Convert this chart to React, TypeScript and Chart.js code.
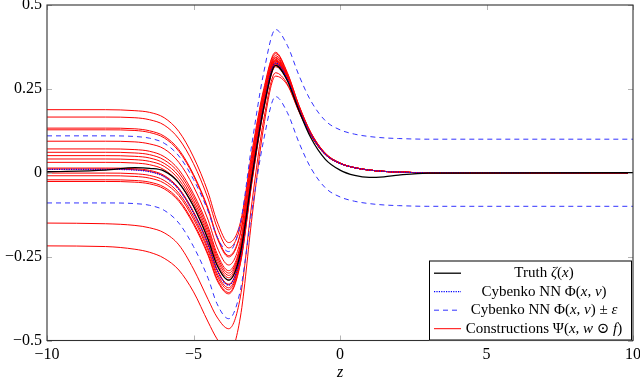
import React, { useEffect, useRef } from 'react';
import { Chart, registerables } from 'chart.js';

Chart.register(...registerables);

// ---- data ----
const X = [-10, -8, -7, -6.5, -6, -5.5, -5, -4.5, -4.2, -3.8, -3.4, -3.0, -2.6, -2.2, -1.8, -1.4, -1.0, -0.5, 0, 0.5, 1, 1.5, 2, 3, 10];

const TRUTH = [0.003, 0.008, 0.015, 0.013, 0.005, -0.03, -0.1, -0.2, -0.275, -0.32, -0.24, -0.01, 0.195, 0.32, 0.275, 0.185, 0.105, 0.04, 0.008, -0.008, -0.014, -0.012, -0.007, -0.001, 0];
const PHI = [0.01, 0.01, 0.008, 0.003, -0.012, -0.05, -0.12, -0.215, -0.29, -0.335, -0.25, -0.01, 0.2, 0.327, 0.28, 0.19, 0.115, 0.055, 0.028, 0.015, 0.008, 0.004, 0.002, 0, 0];
const PHI_UP = [0.11, 0.11, 0.108, 0.103, 0.088, 0.05, -0.02, -0.115, -0.19, -0.235, -0.15, 0.09, 0.3, 0.427, 0.38, 0.29, 0.215, 0.155, 0.128, 0.115, 0.108, 0.104, 0.102, 0.1, 0.1];
const PHI_LO = [-0.09, -0.09, -0.092, -0.097, -0.112, -0.15, -0.22, -0.315, -0.39, -0.435, -0.35, -0.11, 0.1, 0.227, 0.18, 0.09, 0.015, -0.045, -0.072, -0.085, -0.092, -0.096, -0.098, -0.1, -0.1];

const RED_01 = [0.188, 0.188, 0.185, 0.18, 0.164, 0.123, 0.047, -0.059, -0.144, -0.208, -0.148, 0.066, 0.251, 0.359, 0.299, 0.201, 0.121, 0.058, 0.029, 0.015, 0.008, 0.004, 0.002, 0, 0];
const RED_02 = [0.166, 0.166, 0.164, 0.158, 0.142, 0.101, 0.027, -0.078, -0.162, -0.224, -0.16, 0.056, 0.245, 0.355, 0.297, 0.2, 0.12, 0.058, 0.029, 0.015, 0.008, 0.004, 0.002, 0, 0];
const RED_03 = [0.133, 0.133, 0.131, 0.125, 0.109, 0.069, -0.005, -0.107, -0.189, -0.247, -0.179, 0.042, 0.235, 0.349, 0.293, 0.198, 0.119, 0.057, 0.029, 0.015, 0.008, 0.004, 0.002, 0, 0];
const RED_04 = [0.128, 0.128, 0.126, 0.12, 0.104, 0.064, -0.009, -0.111, -0.193, -0.251, -0.182, 0.04, 0.234, 0.344, 0.291, 0.197, 0.119, 0.057, 0.029, 0.015, 0.008, 0.004, 0.002, 0, 0];
const RED_05 = [0.094, 0.094, 0.092, 0.086, 0.071, 0.031, -0.041, -0.141, -0.221, -0.275, -0.202, 0.026, 0.224, 0.342, 0.289, 0.195, 0.118, 0.056, 0.029, 0.015, 0.008, 0.004, 0.002, 0, 0];
const RED_06 = [0.071, 0.071, 0.069, 0.064, 0.048, 0.009, -0.063, -0.161, -0.24, -0.292, -0.215, 0.016, 0.218, 0.338, 0.287, 0.194, 0.117, 0.056, 0.028, 0.015, 0.008, 0.004, 0.002, 0, 0];
const RED_07 = [0.061, 0.061, 0.059, 0.054, 0.038, 0.0, -0.072, -0.17, -0.248, -0.299, -0.221, 0.012, 0.215, 0.336, 0.286, 0.193, 0.117, 0.056, 0.028, 0.015, 0.008, 0.004, 0.002, 0, 0];
const RED_08 = [0.051, 0.051, 0.049, 0.044, 0.028, -0.01, -0.082, -0.179, -0.256, -0.306, -0.226, 0.007, 0.212, 0.334, 0.284, 0.193, 0.116, 0.056, 0.028, 0.015, 0.008, 0.004, 0.002, 0, 0];
const RED_09 = [0.041, 0.041, 0.039, 0.034, 0.019, -0.02, -0.091, -0.188, -0.265, -0.313, -0.232, 0.003, 0.209, 0.333, 0.283, 0.192, 0.116, 0.055, 0.028, 0.015, 0.008, 0.004, 0.002, 0, 0];
const RED_10 = [0.031, 0.031, 0.029, 0.024, 0.009, -0.03, -0.1, -0.197, -0.273, -0.32, -0.238, -0.001, 0.206, 0.331, 0.282, 0.191, 0.116, 0.055, 0.028, 0.015, 0.008, 0.004, 0.002, 0, 0];
const RED_11 = [0.014, 0.014, 0.012, 0.007, -0.008, -0.046, -0.116, -0.211, -0.287, -0.332, -0.248, -0.008, 0.201, 0.328, 0.28, 0.19, 0.115, 0.055, 0.028, 0.015, 0.008, 0.004, 0.002, 0, 0];
const RED_12 = [0.011, 0.011, 0.009, 0.004, -0.011, -0.049, -0.119, -0.214, -0.289, -0.334, -0.249, -0.01, 0.2, 0.327, 0.28, 0.19, 0.115, 0.055, 0.028, 0.015, 0.008, 0.004, 0.002, 0, 0];
const RED_13 = [-0.001, -0.001, -0.003, -0.008, -0.023, -0.061, -0.13, -0.225, -0.299, -0.343, -0.256, -0.015, 0.197, 0.325, 0.279, 0.189, 0.115, 0.055, 0.028, 0.015, 0.008, 0.004, 0.002, 0, 0];
const RED_14 = [-0.009, -0.009, -0.011, -0.016, -0.031, -0.068, -0.138, -0.232, -0.306, -0.349, -0.261, -0.018, 0.195, 0.324, 0.278, 0.189, 0.114, 0.055, 0.028, 0.015, 0.008, 0.004, 0.002, 0, 0];
const RED_15 = [-0.021, -0.021, -0.023, -0.028, -0.043, -0.08, -0.149, -0.242, -0.315, -0.357, -0.268, -0.023, 0.191, 0.321, 0.277, 0.188, 0.114, 0.055, 0.028, 0.015, 0.008, 0.004, 0.002, 0, 0];
const RED_16 = [-0.026, -0.026, -0.028, -0.033, -0.048, -0.085, -0.154, -0.247, -0.32, -0.361, -0.271, -0.025, 0.19, 0.316, 0.276, 0.188, 0.114, 0.054, 0.028, 0.015, 0.008, 0.004, 0.002, 0, 0];
const RED_17 = [-0.15, -0.152, -0.157, -0.164, -0.179, -0.215, -0.287, -0.378, -0.43, -0.465, -0.37, -0.085, 0.16, 0.298, 0.265, 0.183, 0.112, 0.054, 0.028, 0.015, 0.008, 0.004, 0.002, 0, 0];
const RED_18 = [-0.218, -0.22, -0.228, -0.237, -0.255, -0.29, -0.355, -0.445, -0.495, -0.54, -0.43, -0.13, 0.14, 0.288, 0.262, 0.182, 0.112, 0.054, 0.028, 0.015, 0.008, 0.004, 0.002, 0, 0];

const RED_SERIES = [RED_01, RED_02, RED_03, RED_04, RED_05, RED_06, RED_07, RED_08, RED_09, RED_10, RED_11, RED_12, RED_13, RED_14, RED_15, RED_16, RED_17, RED_18];

const X_TICKS = [-10, -5, 0, 5, 10];
const Y_TICKS = [-0.5, -0.25, 0, 0.25, 0.5];
const X_TITLE = 'z';

// legend labels: [text, italic]
const LEGEND_TRUTH: [string, boolean][] = [['Truth ', false], ['ζ', true], ['(', false], ['x', true], [')', false]];
const LEGEND_PHI: [string, boolean][] = [['Cybenko NN Φ(', false], ['x', true], [', ', false], ['v', true], [')', false]];
const LEGEND_PHI_EPS: [string, boolean][] = [['Cybenko NN Φ(', false], ['x', true], [', ', false], ['v', true], [') ± ', false], ['ε', true]];
const LEGEND_CONS: [string, boolean][] = [['Constructions Ψ(', false], ['x', true], [', ', false], ['w', true], [' ⊙ ', false], ['f', true], [')', false]];

const SERIF = '"Liberation Serif", "DejaVu Serif", serif';

const fmt = (v: number) => {
  const s = String(Math.abs(v));
  return v < 0 ? '\u2212' + s : s;
};

const pts = (ys: number[]) => X.map((x, i) => ({ x, y: ys[i] }));

type LegendItem = { label: [string, boolean][]; color: string; dash: number[]; width: number };
const LEGEND_ITEMS: LegendItem[] = [
  { label: LEGEND_TRUTH, color: '#000000', dash: [], width: 1.3 },
  { label: LEGEND_PHI, color: '#0000ff', dash: [1.2, 1.2], width: 1.2 },
  { label: LEGEND_PHI_EPS, color: '#3333ff', dash: [5, 4], width: 1 },
  { label: LEGEND_CONS, color: '#ff0000', dash: [], width: 1 },
];

const framePlugin = {
  id: 'pgfFrame',
  afterDatasetsDraw(chart: any) {
    const { ctx, chartArea, scales } = chart;
    const { left, right, top, bottom } = chartArea;
    ctx.save();
    // inward tick marks
    ctx.strokeStyle = '#b4b4b4';
    ctx.lineWidth = 1;
    ctx.setLineDash([]);
    const tl = 5;
    X_TICKS.forEach((t) => {
      const px = Math.round(scales.x.getPixelForValue(t)) + 0.5;
      ctx.beginPath();
      ctx.moveTo(px, bottom); ctx.lineTo(px, bottom - tl);
      ctx.moveTo(px, top); ctx.lineTo(px, top + tl);
      ctx.stroke();
    });
    Y_TICKS.forEach((t) => {
      const py = Math.round(scales.y.getPixelForValue(t)) + 0.5;
      ctx.beginPath();
      ctx.moveTo(left, py); ctx.lineTo(left + tl, py);
      ctx.moveTo(right, py); ctx.lineTo(right - tl, py);
      ctx.stroke();
    });
    // frame
    ctx.strokeStyle = '#303030';
    ctx.lineWidth = 1.1;
    ctx.strokeRect(left, top, right - left, bottom - top);

    // legend box
    const bw = 203, bh = 80;
    const bx = right - bw - 1, by = bottom - bh;
    ctx.fillStyle = '#ffffff';
    ctx.fillRect(bx, by, bw, bh);
    ctx.strokeStyle = '#000000';
    ctx.lineWidth = 1;
    ctx.strokeRect(bx + 0.5, by + 0.5, bw - 1, bh - 1);
    const rowH = 18.5;
    const textCenter = bx + 115;
    LEGEND_ITEMS.forEach((item, i) => {
      const cy = by + 12.7 + i * rowH;
      ctx.strokeStyle = item.color;
      ctx.lineWidth = item.width;
      ctx.setLineDash(item.dash);
      ctx.beginPath();
      ctx.moveTo(bx + 5, cy); ctx.lineTo(bx + 32, cy);
      ctx.stroke();
      ctx.setLineDash([]);
      // rich text
      ctx.fillStyle = '#000';
      ctx.textBaseline = 'middle';
      ctx.textAlign = 'left';
      let total = 0;
      const widths = item.label.map(([t, it]) => {
        ctx.font = (it ? 'italic ' : '') + '15px ' + SERIF;
        const w = ctx.measureText(t).width;
        total += w;
        return w;
      });
      let x = textCenter - total / 2;
      item.label.forEach(([t, it], k) => {
        ctx.font = (it ? 'italic ' : '') + '15px ' + SERIF;
        ctx.fillText(t, x, cy);
        x += widths[k];
      });
    });

    // x title
    ctx.fillStyle = '#000';
    ctx.font = 'italic 16px ' + SERIF;
    ctx.textAlign = 'center';
    ctx.textBaseline = 'alphabetic';
    ctx.fillText(X_TITLE, scales.x.getPixelForValue(0), 376.5);
    ctx.restore();
  },
};

export default function App() {
  const ref = useRef<HTMLCanvasElement | null>(null);
  useEffect(() => {
    if (!ref.current) return;
    const datasets: any[] = [
      { data: pts(TRUTH), borderColor: '#000000', borderWidth: 1.3 },
      { data: pts(PHI), borderColor: '#0000ff', borderWidth: 1.2, borderDash: [1.2, 1.2] },
      { data: pts(PHI_UP), borderColor: '#3333ff', borderWidth: 1, borderDash: [5, 4] },
      { data: pts(PHI_LO), borderColor: '#3333ff', borderWidth: 1, borderDash: [5, 4] },
      ...RED_SERIES.map((s) => ({ data: pts(s), borderColor: '#ff0000', borderWidth: 1 })),
    ].map((d) => ({ ...d, pointRadius: 0, fill: false, cubicInterpolationMode: 'monotone' }));

    const chart = new Chart(ref.current, {
      type: 'line',
      data: { datasets },
      plugins: [framePlugin],
      options: {
        animation: false,
        responsive: false,
        maintainAspectRatio: false,
        layout: { padding: { top: 5, right: 7, left: 0, bottom: 0 } },
        plugins: { legend: { display: false }, tooltip: { enabled: false } },
        scales: {
          x: {
            type: 'linear',
            min: -10,
            max: 10,
            afterBuildTicks: (s: any) => { s.ticks = X_TICKS.map((v) => ({ value: v })); },
            afterFit: (s: any) => { s.height = 38.5; s.paddingLeft = 0; s.paddingRight = 0; },
            ticks: { callback: (v: any) => fmt(Number(v)), font: { family: SERIF, size: 16 }, color: '#000', padding: 5, maxRotation: 0 },
            grid: { display: false, drawTicks: false },
            border: { display: false },
          },
          y: {
            type: 'linear',
            min: -0.5,
            max: 0.5,
            afterBuildTicks: (s: any) => { s.ticks = Y_TICKS.map((v) => ({ value: v })); },
            afterFit: (s: any) => { s.width = 47; s.paddingTop = 0; s.paddingBottom = 0; },
            ticks: { callback: (v: any) => fmt(Number(v)), font: { family: SERIF, size: 16 }, color: '#000', padding: 5 },
            grid: { display: false, drawTicks: false },
            border: { display: false },
          },
        },
      } as any,
    });
    return () => chart.destroy();
  }, []);
  return (
    <div style={{ position: 'fixed', left: 0, top: 0, width: 640, height: 379, background: '#fff' }}>
      <canvas ref={ref} width={640} height={379} />
    </div>
  );
}
